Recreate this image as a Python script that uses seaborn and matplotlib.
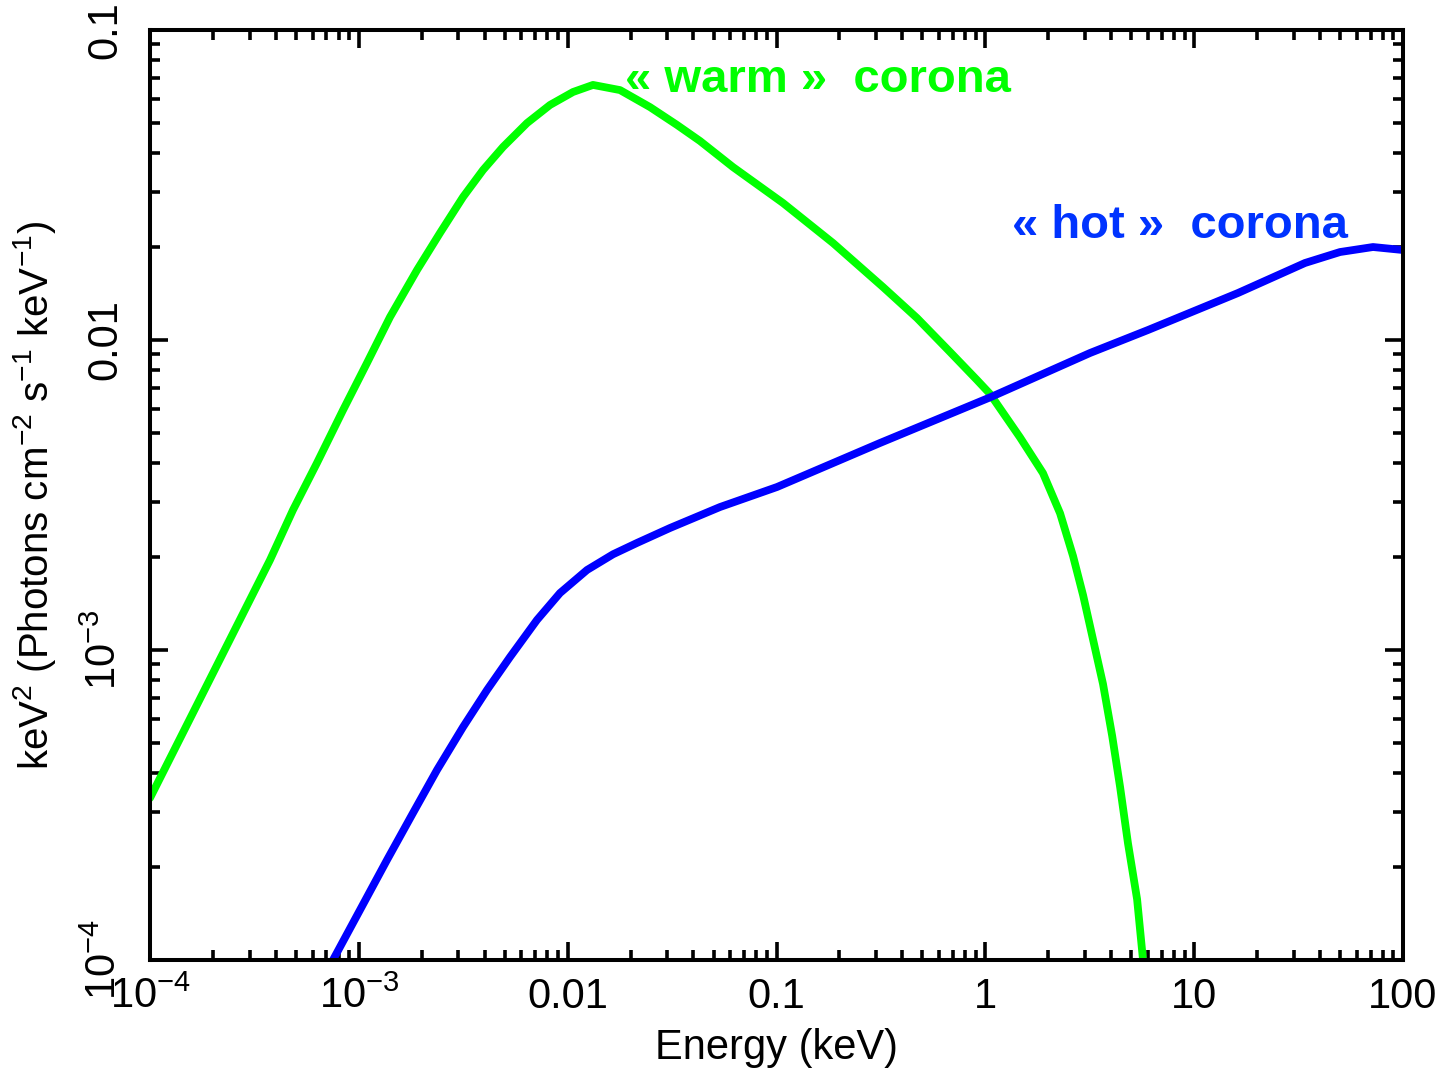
import numpy as np
import pandas as pd
import matplotlib
matplotlib.use("Agg")
import matplotlib.pyplot as plt
import seaborn as sns
from matplotlib.ticker import LogLocator, NullFormatter

# ---- data (keV, keV^2 photons cm^-2 s^-1 keV^-1) ----
warm_energy = [1.0e-4, 3.755e-4, 4.839e-4, 6.30e-4, 8.40e-4, 1.094e-3, 1.410e-3,
               1.900e-3, 2.447e-3, 3.153e-3, 3.932e-3, 4.903e-3, 6.389e-3, 8.229e-3,
               1.061e-2, 1.322e-2, 1.781e-2, 2.479e-2, 3.339e-2, 4.302e-2, 6.188e-2,
               0.1074, 0.1865, 0.3236, 0.4709, 0.6775, 0.912, 1.053, 1.466, 1.888,
               2.28, 2.63, 2.94, 3.28, 3.66, 4.05, 4.42, 4.82, 5.33, 5.69]
warm_flux = [3.33e-4, 1.951e-3, 2.83e-3, 4.01e-3, 5.94e-3, 8.43e-3, 1.186e-2,
             1.682e-2, 2.214e-2, 2.891e-2, 3.534e-2, 4.195e-2, 5.01e-2, 5.73e-2,
             6.31e-2, 6.65e-2, 6.40e-2, 5.64e-2, 4.94e-2, 4.385e-2, 3.613e-2,
             2.767e-2, 2.055e-2, 1.482e-2, 1.177e-2, 9.15e-3, 7.43e-3, 6.70e-3,
             4.85e-3, 3.72e-3, 2.76e-3, 2.01e-3, 1.50e-3, 1.08e-3, 7.77e-4,
             5.28e-4, 3.61e-4, 2.38e-4, 1.57e-4, 1.0e-4]

hot_energy = [7.52e-4, 1.013e-3, 1.364e-3, 1.817e-3, 2.367e-3, 3.153e-3, 4.110e-3,
              5.295e-3, 7.13e-3, 9.19e-3, 1.238e-2, 1.649e-2, 2.148e-2, 3.090e-2,
              5.363e-2, 0.1006, 0.3131, 1.065, 3.172, 6.01, 16.22, 33.95, 49.93,
              71.85, 100.0]
hot_flux = [1.0e-4, 1.450e-4, 2.102e-4, 2.980e-4, 4.10e-4, 5.64e-4, 7.43e-4,
            9.49e-4, 1.250e-3, 1.527e-3, 1.812e-3, 2.036e-3, 2.215e-3, 2.475e-3,
            2.892e-3, 3.356e-3, 4.654e-3, 6.55e-3, 9.08e-3, 1.077e-2, 1.418e-2,
            1.772e-2, 1.922e-2, 1.995e-2, 1.951e-2]

x_ticks = [1e-4, 1e-3, 1e-2, 1e-1, 1, 10, 100]
x_tick_labels = ["10$^{-4}$", "10$^{-3}$", "0.01", "0.1", "1", "10", "100"]
y_ticks = [1e-4, 1e-3, 1e-2, 1e-1]
y_tick_labels = ["10$^{-4}$", "10$^{-3}$", "0.01", "0.1"]

labels = {"warm": "« warm »  corona", "hot": "« hot »  corona"}

# ---- style ----
sns.set_theme(style="ticks")
plt.rcParams["font.family"] = ["Liberation Sans", "DejaVu Sans"]
plt.rcParams["mathtext.fontset"] = "custom"
plt.rcParams["mathtext.rm"] = "Liberation Sans"
plt.rcParams["mathtext.it"] = "Liberation Sans:italic"
plt.rcParams["mathtext.bf"] = "Liberation Sans:bold"

df = pd.concat([
    pd.DataFrame({"energy": warm_energy, "flux": warm_flux, "component": "warm"}),
    pd.DataFrame({"energy": hot_energy, "flux": hot_flux, "component": "hot"}),
], ignore_index=True)

W, H = 1443, 1069
fig = plt.figure(figsize=(W / 100, H / 100), dpi=100)
ax = fig.add_axes([150 / W, 1 - 960 / H, 1253 / W, 930 / H])
ax.set_xscale("log")
ax.set_yscale("log")

sns.lineplot(data=df, x="energy", y="flux", hue="component",
             palette={"warm": "#00ff00", "hot": "#0000ff"},
             estimator=None, sort=True, linewidth=5.6, legend=False, ax=ax,
             solid_capstyle="round", solid_joinstyle="round")

ax.set_xlim(1e-4, 100)
ax.set_ylim(1e-4, 0.1)

ax.set_xticks(x_ticks, x_tick_labels, fontsize=30)
ax.set_yticks(y_ticks, y_tick_labels, fontsize=30, rotation=90, va="center")
ax.xaxis.set_minor_locator(LogLocator(base=10, subs=np.arange(2, 10), numticks=20))
ax.yaxis.set_minor_locator(LogLocator(base=10, subs=np.arange(2, 10), numticks=20))
ax.xaxis.set_minor_formatter(NullFormatter())
ax.yaxis.set_minor_formatter(NullFormatter())

ax.tick_params(which="both", direction="in", top=True, right=True,
               color="black", width=2.6, labelcolor="black")
ax.tick_params(which="major", length=13)
ax.tick_params(which="minor", length=7.5)
ax.tick_params(axis="x", which="major", pad=12)
ax.tick_params(axis="y", which="major", pad=18)

for s in ax.spines.values():
    s.set_linewidth(2.9)
    s.set_color("black")

ax.set_xlabel("Energy (keV)", fontsize=30, labelpad=8, color="black")
ax.set_ylabel("keV$^2$ (Photons cm$^{-2}$ s$^{-1}$ keV$^{-1}$)", fontsize=29,
              labelpad=19, color="black")

ax.text(0.0188, 0.063, labels["warm"], color="#00ff00", fontsize=34,
        fontweight="bold", ha="left", va="baseline")
ax.text(1.34, 0.0213, labels["hot"], color="#0033ff", fontsize=34,
        fontweight="bold", ha="left", va="baseline")

fig.savefig("out.png", dpi=100, facecolor="white")
